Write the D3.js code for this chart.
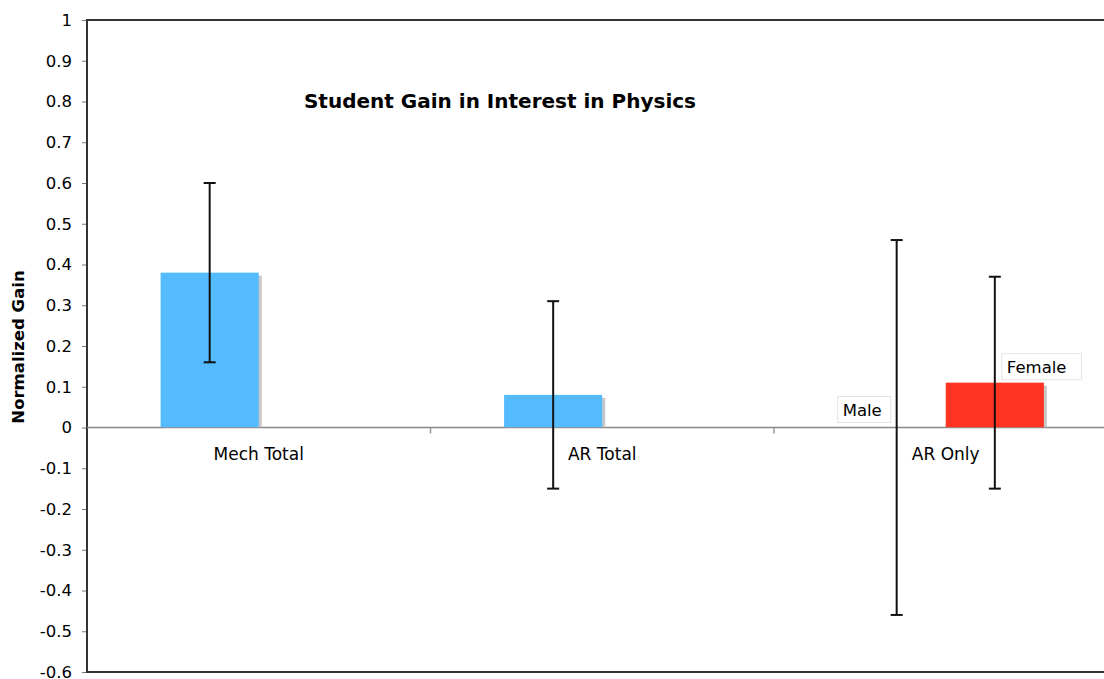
<!DOCTYPE html>
<html><head><meta charset="utf-8">
<script src="https://cdn.jsdelivr.net/npm/d3@7"></script>
<style>body{margin:0;background:#fff;}svg{display:block;font-family:"DejaVu Sans",Verdana,sans-serif;}</style>
</head><body>
<svg id="chart" width="1104" height="679"></svg>
<script>
const categories = ["Mech Total", "AR Total", "AR Only"];
const seriesNames = ["Male", "Female"];
const maleValues = [0.38, 0.08, 0.0];
const maleErrLow = [0.16, -0.15, -0.46];
const maleErrHigh = [0.60, 0.31, 0.46];
const femaleValues = [null, null, 0.11];
const femaleErrLow = [null, null, -0.15];
const femaleErrHigh = [null, null, 0.37];
const yTicks = [1, 0.9, 0.8, 0.7, 0.6, 0.5, 0.4, 0.3, 0.2, 0.1, 0, -0.1, -0.2, -0.3, -0.4, -0.5, -0.6];
const colors = {Male: "#55bbff", Female: "#ff3322"};

const svg = d3.select("#chart");
const pLeft = 87, pTop = 20, pBottom = 672, pRight = 1117.5;

const x = d3.scaleBand().domain(categories).range([pLeft, pRight]);
const xs = d3.scaleBand().domain(seriesNames).range([0, x.bandwidth()]).paddingInner(0).paddingOuter(0.75);
const y = d3.scaleLinear().domain([-0.6, 1]).range([pBottom, pTop]);

// y axis
const yAxis = d3.axisLeft(y).tickValues(yTicks).tickSize(5).tickPadding(10)
  .tickFormat(d => String(+d.toFixed(1)));
const gy = svg.append("g").attr("transform", `translate(${pLeft},0)`).call(yAxis);
gy.select(".domain").remove();
gy.selectAll(".tick line").attr("stroke", "#777");
gy.selectAll(".tick text").attr("font-size", 16.5).attr("fill", "#000").attr("font-family", "DejaVu Sans");

// frame
svg.append("line").attr("x1", pLeft).attr("x2", 1104).attr("y1", pTop).attr("y2", pTop).attr("stroke", "#333").attr("stroke-width", 2);
svg.append("line").attr("x1", pLeft).attr("x2", 1104).attr("y1", pBottom).attr("y2", pBottom).attr("stroke", "#333").attr("stroke-width", 2);
svg.append("line").attr("x1", pLeft).attr("x2", pLeft).attr("y1", pTop - 1).attr("y2", pBottom + 1).attr("stroke", "#333").attr("stroke-width", 2);

// zero line + category ticks
svg.append("line").attr("x1", pLeft).attr("x2", 1104).attr("y1", y(0)).attr("y2", y(0)).attr("stroke", "#888").attr("stroke-width", 1.5);
const bounds = categories.slice(1).map(c => x(c));
svg.selectAll(".ctick").data(bounds).join("line")
  .attr("x1", d => d).attr("x2", d => d).attr("y1", y(0)).attr("y2", y(0) + 6)
  .attr("stroke", "#999").attr("stroke-width", 1.5);

// data rows
const rows = [];
categories.forEach((c, i) => {
  rows.push({cat: c, s: "Male", v: maleValues[i], lo: maleErrLow[i], hi: maleErrHigh[i]});
  if (femaleValues[i] !== null) rows.push({cat: c, s: "Female", v: femaleValues[i], lo: femaleErrLow[i], hi: femaleErrHigh[i]});
});
const bw = xs.bandwidth();
const bx = d => x(d.cat) + xs(d.s);

// shadows
svg.selectAll(".shadow").data(rows.filter(d => d.v > 0)).join("rect")
  .attr("x", d => bx(d) + 3).attr("y", d => y(d.v) + 3)
  .attr("width", bw).attr("height", d => y(0) - y(d.v) - 3)
  .attr("fill", "#c8c8c8");
// bars
svg.selectAll(".bar").data(rows.filter(d => d.v > 0)).join("rect")
  .attr("x", d => bx(d)).attr("y", d => y(d.v))
  .attr("width", bw).attr("height", d => y(0) - y(d.v))
  .attr("fill", d => colors[d.s]);
// redraw zero line over bars
svg.append("line").attr("x1", pLeft).attr("x2", 1104).attr("y1", y(0)).attr("y2", y(0)).attr("stroke", "#888").attr("stroke-width", 1.2).attr("opacity", 0.6);

// error bars
const eg = svg.selectAll(".err").data(rows).join("g").attr("stroke", "#111").attr("stroke-width", 2);
eg.append("line").attr("x1", d => bx(d) + bw / 2).attr("x2", d => bx(d) + bw / 2)
  .attr("y1", d => y(d.hi)).attr("y2", d => y(d.lo));
eg.append("line").attr("x1", d => bx(d) + bw / 2 - 6).attr("x2", d => bx(d) + bw / 2 + 6)
  .attr("y1", d => y(d.hi)).attr("y2", d => y(d.hi));
eg.append("line").attr("x1", d => bx(d) + bw / 2 - 6).attr("x2", d => bx(d) + bw / 2 + 6)
  .attr("y1", d => y(d.lo)).attr("y2", d => y(d.lo));

// category labels
svg.selectAll(".clab").data(categories).join("text")
  .attr("x", d => x(d) + x.bandwidth() / 2).attr("y", y(0) + 32)
  .attr("text-anchor", "middle").attr("font-size", 17).text(d => d);

// series data labels in boxes (AR Only)
const labelRows = rows.filter(d => d.cat === "AR Only");
labelRows.forEach(d => {
  const cx = bx(d) + bw / 2;
  const isMale = d.s === "Male";
  const lx = isMale ? cx - 59 : cx + 7;
  const ly = isMale ? y(d.v) - 31 : y(d.v) - 29;
  const g = svg.append("g").attr("transform", `translate(${lx},${ly})`);
  const t = g.append("text").attr("x", 5).attr("y", 19).attr("font-size", 16.5).text(d.s);
  const w = t.node().getComputedTextLength();
  g.insert("rect", "text").attr("x", 0).attr("y", 0).attr("width", isMale ? w + 14 : w + 20).attr("height", 26)
    .attr("fill", "#fff").attr("stroke", "#e4e4e4").attr("stroke-width", 1);
});

// title
svg.append("text").attr("x", 500).attr("y", 108).attr("text-anchor", "middle")
  .attr("font-size", 20).attr("font-weight", "bold").text("Student Gain in Interest in Physics");

// y label
svg.append("text").attr("transform", `translate(24,347) rotate(-90)`).attr("text-anchor", "middle")
  .attr("font-size", 16.5).attr("font-weight", "bold").text("Normalized Gain");
</script>
</body></html>
